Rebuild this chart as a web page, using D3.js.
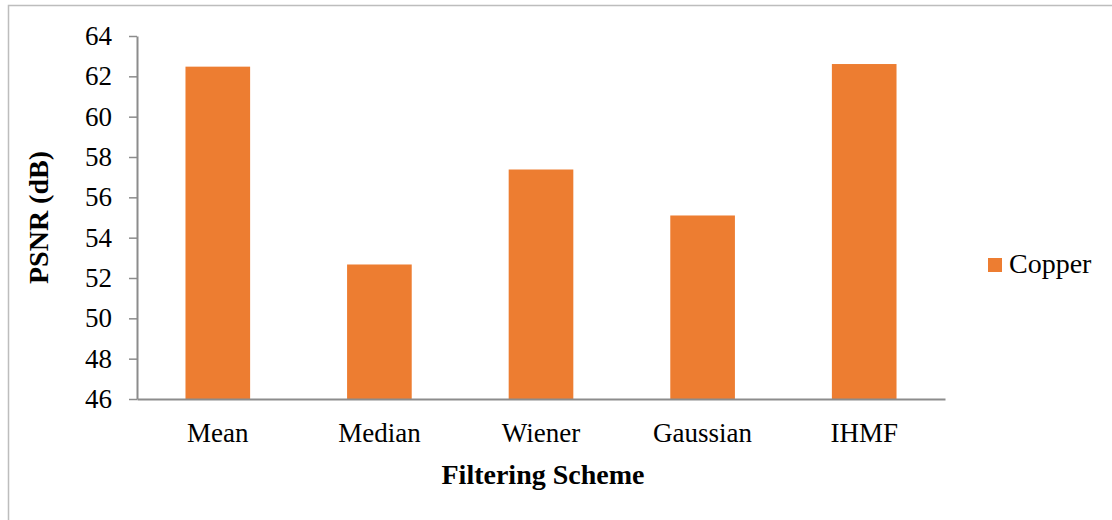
<!DOCTYPE html>
<html>
<head>
<meta charset="utf-8">
<script src="https://cdn.jsdelivr.net/npm/d3@7"></script>
<style>
  html, body { margin: 0; padding: 0; background: #fff; }
  svg { display: block; }
</style>
</head>
<body>
<script>
// PSNR per filtering scheme (Copper image)
const categories = ["Mean", "Median", "Wiener", "Gaussian", "IHMF"];
const psnrCopper = [62.48, 52.67, 57.38, 55.1, 62.61];
const yTicks = [46, 48, 50, 52, 54, 56, 58, 60, 62, 64];
const seriesName = "Copper";

const W = 1112, H = 520;
const plot = { left: 137, right: 945, top: 36, bottom: 399 };
const barColor = "#ED7D31";
const axisColor = "#8c8c8c";
const serif = "'Liberation Serif', 'Times New Roman', 'DejaVu Serif', serif";

const svg = d3.select("body").append("svg")
  .attr("width", W).attr("height", H)
  .attr("font-family", serif);

// chart frame
svg.append("rect")
  .attr("x", 8.5).attr("y", 5.5)
  .attr("width", W + 20).attr("height", H + 20)
  .attr("fill", "#fff").attr("stroke", "#bdbdbd").attr("stroke-width", 1.5);

const x = d3.scaleBand().domain(categories).range([plot.left, plot.right]).padding(0);
const y = d3.scaleLinear().domain([46, 64]).range([plot.bottom, plot.top]);

// bars: width 40% of band (gap width 150%)
const barW = x.bandwidth() * 0.4;
svg.append("g").selectAll("rect")
  .data(categories.map((c, i) => ({ c, v: psnrCopper[i] })))
  .join("rect")
  .attr("x", d => x(d.c) + (x.bandwidth() - barW) / 2)
  .attr("y", d => y(d.v))
  .attr("width", barW)
  .attr("height", d => y(46) - y(d.v))
  .attr("fill", barColor);

// y axis
const yAxis = svg.append("g")
  .attr("transform", `translate(${plot.left},0)`)
  .call(d3.axisLeft(y).tickValues(yTicks).tickSize(8).tickPadding(17).tickSizeOuter(0))
  .attr("font-family", serif).attr("font-size", 27);
yAxis.select(".domain").attr("stroke", axisColor).attr("stroke-width", 2);
yAxis.selectAll(".tick line").attr("stroke", axisColor).attr("stroke-width", 1.5);
yAxis.selectAll(".tick text")
  .attr("font-family", serif).attr("font-size", 27).attr("fill", "#000");

// x axis
const xAxis = svg.append("g")
  .attr("transform", `translate(0,${plot.bottom})`)
  .call(d3.axisBottom(x).tickSize(0).tickPadding(24).tickSizeOuter(0))
  .attr("font-family", serif).attr("font-size", 27);
xAxis.select(".domain").attr("stroke", axisColor).attr("stroke-width", 2);
xAxis.selectAll(".tick text")
  .attr("font-family", serif).attr("font-size", 27).attr("fill", "#000");

// axis titles
svg.append("text")
  .attr("x", (plot.left + plot.right) / 2 + 2).attr("y", 484)
  .attr("text-anchor", "middle")
  .attr("font-family", serif).attr("font-size", 28).attr("font-weight", "bold")
  .text("Filtering Scheme");

svg.append("text")
  .attr("transform", `translate(48,${(plot.top + plot.bottom) / 2}) rotate(-90)`)
  .attr("text-anchor", "middle")
  .attr("font-family", serif).attr("font-size", 28).attr("font-weight", "bold")
  .text("PSNR (dB)");

// legend
const lg = svg.append("g").attr("transform", "translate(988,258)");
lg.append("rect").attr("width", 14).attr("height", 14).attr("fill", barColor);
lg.append("text").attr("x", 21).attr("y", 15)
  .attr("font-family", serif).attr("font-size", 28)
  .text(seriesName);
</script>
</body>
</html>
